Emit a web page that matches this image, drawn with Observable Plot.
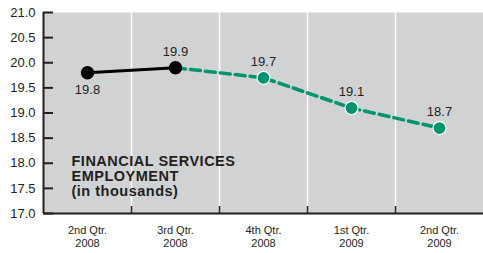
<!DOCTYPE html>
<html><head><meta charset="utf-8">
<script src="https://cdn.jsdelivr.net/npm/d3@7"></script>
<script src="https://cdn.jsdelivr.net/npm/@observablehq/plot@0.6"></script>
<style>
body{margin:0;background:#fff;}
svg{font-family:"Liberation Sans",Arial,Helvetica,sans-serif;}
</style></head><body><div id="chart"></div>
<script>
const categories = ["2nd Qtr.\n2008","3rd Qtr.\n2008","4th Qtr.\n2008","1st Qtr.\n2009","2nd Qtr.\n2009"];
const values = [19.8, 19.9, 19.7, 19.1, 18.7];
const kinds = ["actual","actual","estimate","estimate","estimate"];
const labelSide = ["below","above","above","above","above"];
const yTicks = [17.0,17.5,18.0,18.5,19.0,19.5,20.0,20.5,21.0];
const annotation = "FINANCIAL SERVICES\nEMPLOYMENT\n(in thousands)";

const data = values.map((v,i)=>({i, v, kind:kinds[i], side:labelSide[i]}));
const actual = data.filter(d=>d.kind==="actual");
const estimate = data.filter((d,i)=>d.kind==="estimate" || i===actual.length-1);
const bounds = categories.slice(1).map((c,i)=>i+0.5);

const plot = Plot.plot({
  width: 483, height: 253,
  marginLeft: 43, marginRight: 0, marginTop: 12, marginBottom: 40,
  style: {fontFamily:'"Liberation Sans",Arial,sans-serif', background:"#fff"},
  x: {type:"linear", domain:[-0.5, categories.length-0.5]},
  y: {domain:[17,21]},
  marks: [
    Plot.frame({fill:"#d1d2d4", stroke:null}),
    Plot.ruleX(bounds, {stroke:"#fff", strokeWidth:1.5}),
    Plot.axisX(bounds, {tickSize:-7, stroke:"#231f20", strokeWidth:1.5, text:null, label:null}),
    Plot.axisX(categories.map((c,i)=>i), {tickSize:0, tickPadding:12, tickFormat:i=>categories[i], fontSize:11, fill:"#231f20", label:null, lineHeight:1.15}),
    Plot.axisY(yTicks, {tickSize:-10, stroke:"#231f20", strokeWidth:2, text:null, label:null}),
    Plot.axisY(yTicks, {tickSize:0, tickPadding:8, tickFormat:d=>d.toFixed(1), fontSize:13, fill:"#231f20", label:null}),
    Plot.ruleX([-0.5], {stroke:"#231f20", strokeWidth:2}),
    Plot.ruleY([17], {stroke:"#231f20", strokeWidth:2}),
    Plot.line(estimate, {x:"i", y:"v", stroke:"#00936e", strokeWidth:3.5, strokeDasharray:"10,5"}),
    Plot.line(actual, {x:"i", y:"v", stroke:"#000", strokeWidth:3}),
    Plot.dot(data.filter(d=>d.kind==="actual"), {x:"i", y:"v", r:6, fill:"#000", stroke:"#000"}),
    Plot.dot(data.filter(d=>d.kind==="estimate"), {x:"i", y:"v", r:6.5, fill:"#00936e", stroke:"#fff", strokeWidth:1.2}),
    Plot.text(data.filter(d=>d.side==="above"), {x:"i", y:"v", text:d=>d.v.toFixed(1), dy:-16, fontSize:13, fill:"#231f20"}),
    Plot.text(data.filter(d=>d.side==="below"), {x:"i", y:"v", text:d=>d.v.toFixed(1), dy:17, fontSize:13, fill:"#231f20"}),
    Plot.text([annotation], {frameAnchor:"bottom-left", dx:28, dy:-18, textAnchor:"start", lineAnchor:"bottom", fontSize:14.5, fontWeight:"bold", fill:"#231f20", lineHeight:1.035})
  ]
});
d3.select(plot).selectAll('g[font-weight="bold"]').attr("letter-spacing","0.5");
document.getElementById("chart").append(plot);
</script></body></html>
